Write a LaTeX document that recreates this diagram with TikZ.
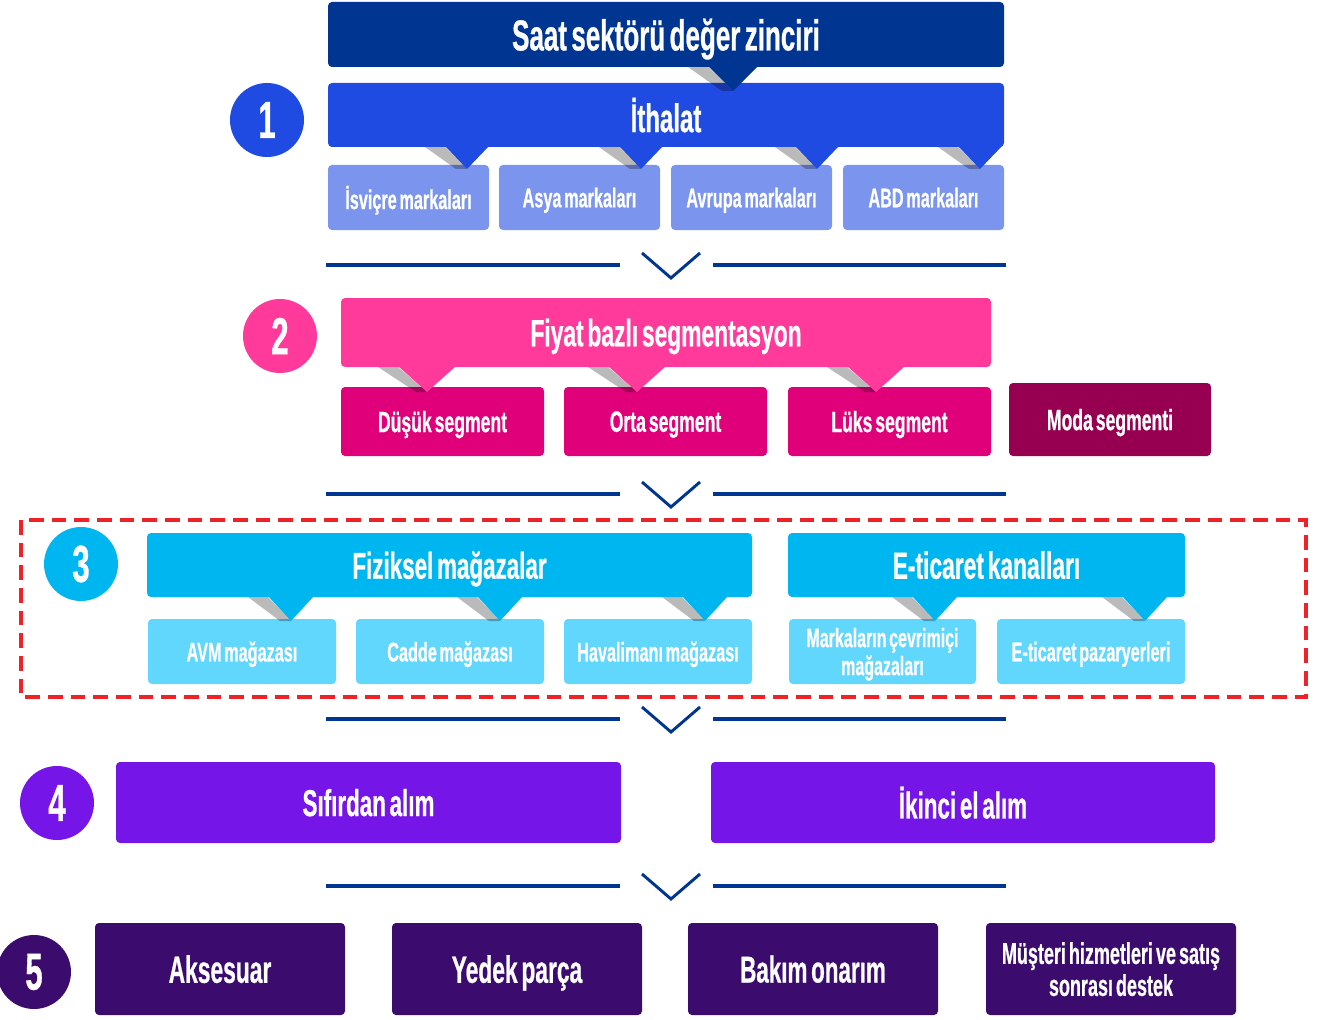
\documentclass[tikz,border=0pt]{standalone}
\usepackage{fontspec}
\setmainfont{Liberation Sans}[FakeStretch=0.6, WordSpace=0.6, FakeBold=0.6]
\definecolor{cdark}{HTML}{003591}
\definecolor{cblue}{HTML}{1F4BE2}
\definecolor{clight}{HTML}{7B95EE}
\definecolor{cpink}{HTML}{FF3A9B}
\definecolor{cmag}{HTML}{E0007A}
\definecolor{cmoda}{HTML}{970050}
\definecolor{ccyan}{HTML}{00B6F1}
\definecolor{clcyan}{HTML}{62D7FE}
\definecolor{cpur}{HTML}{7515E8}
\definecolor{cdpur}{HTML}{3C0B6E}
\definecolor{cred}{HTML}{EE2227}
\tikzset{
  box/.style={rounded corners=3pt, inner sep=0pt, text=white, align=center, text depth=0pt},
  circ/.style={circle, inner sep=0pt, minimum size=55.5pt, text=white, font=\bfseries\fontsize{39pt}{39pt}\selectfont},
  shd/.style={fill=black, opacity=0.27},
  div/.style={draw=cdark, line width=2.6pt},
  chev/.style={draw=cdark, line width=2.2pt, line join=miter},
}
\newcommand\f[1]{\fontsize{#1pt}{#1pt}\selectfont}
% name, x1, y1, x2, y2, colour, font, text
\newcommand\bx[8]{\node[box, fill=#6, minimum width={(#4-#2)*0.75pt}, minimum height={(#5-#3)*0.75pt}, font=\bfseries#7] (#1) at ({(#2+#4)/2},{(#3+#5)/2}) {#8};}
% shadow: tip x, y top, y tip, half width
\newcommand\shd[4]{\fill[shd] ({#1-#4-20},#2) -- ({#1-#4},#2) -- (#1,#3) -- ({#1-11},#3) -- cycle;}
% pointer: tip x, y top, y tip, half width, colour
\newcommand\ptr[5]{\fill[#5] ({#1-#4},{#2-1}) -- ({#1+#4},{#2-1}) -- (#1,#3) -- cycle;}
\newcommand\dvd[1]{\draw[div] (326,#1) -- (620,#1); \draw[div] (713,#1) -- (1006,#1); \draw[chev] (642,{#1-12}) -- (671,{#1+13}) -- (700,{#1-12});}
\begin{document}
\begin{tikzpicture}[x=0.75pt, y=-0.75pt]
\useasboundingbox (0,0) rectangle (1324,1020);
% ---------- section 1
\bx{s1a}{328}{165}{489}{230}{clight}{\f{20.3}}{İsviçre markaları}
\bx{s1b}{499}{165}{660}{230}{clight}{\f{20.3}}{Asya markaları}
\bx{s1c}{671}{165}{832}{230}{clight}{\f{20.3}}{Avrupa markaları}
\bx{s1d}{843}{165}{1004}{230}{clight}{\f{20.3}}{ABD markaları}
\shd{467}{147}{169}{22}\shd{641}{147}{169}{22}\shd{817}{147}{169}{22}\shd{980}{147}{169}{22}
\bx{ith}{328}{83}{1004}{147}{cblue}{\f{30}}{İthalat}
\ptr{467}{147}{169}{22}{cblue}\ptr{641}{147}{169}{22}{cblue}\ptr{817}{147}{169}{22}{cblue}\ptr{980}{147}{169}{22}{cblue}
\shd{733}{67}{91}{25}
\bx{title}{328}{2}{1004}{67}{cdark}{\f{32.5}}{Saat sektörü değer zinciri}
\ptr{733}{67}{91}{25}{cdark}
\node[circ, fill=cblue] (c1) at (267,120) {1};
\dvd{265}
% ---------- section 2
\bx{s2a}{341}{387}{544}{456}{cmag}{\f{22}}{Düşük segment}
\bx{s2b}{564}{387}{767}{456}{cmag}{\f{22}}{Orta segment}
\bx{s2c}{788}{387}{991}{456}{cmag}{\f{22}}{Lüks segment}
\bx{s2d}{1009}{383}{1211}{456}{cmoda}{\f{22}}{Moda segmenti}
\shd{427}{367}{392}{29}\shd{637}{367}{392}{29}\shd{876}{367}{392}{29}
\bx{fiyat}{341}{298}{991}{367}{cpink}{\f{28.5}}{Fiyat bazlı segmentasyon}
\ptr{427}{367}{392}{29}{cpink}\ptr{637}{367}{392}{29}{cpink}\ptr{876}{367}{392}{29}{cpink}
\node[circ, fill=cpink] (c2) at (280,336) {2};
\dvd{494}
% ---------- section 3
\draw[cred, line width=3.2pt, dash pattern=on 11pt off 6pt] (21,520) rectangle (1306,697);
\bx{s3a}{148}{619}{336}{684}{clcyan}{\f{20.3}}{AVM mağazası}
\bx{s3b}{356}{619}{544}{684}{clcyan}{\f{20.3}}{Cadde mağazası}
\bx{s3c}{564}{619}{752}{684}{clcyan}{\f{20.3}}{Havalimanı mağazası}
\bx{s3d}{789}{619}{976}{684}{clcyan}{\fontsize{20pt}{21pt}\selectfont}{Markaların çevrimiçi\\mağazaları}
\bx{s3e}{997}{619}{1185}{684}{clcyan}{\f{20.3}}{E-ticaret pazaryerleri}
\shd{291}{597}{621}{23}\shd{500}{597}{621}{23}\shd{705}{597}{621}{23}\shd{935}{597}{621}{23}\shd{1145}{597}{621}{23}
\bx{fiz}{147}{533}{752}{597}{ccyan}{\f{28}}{Fiziksel mağazalar}
\bx{eti}{788}{533}{1185}{597}{ccyan}{\f{28.5}}{E-ticaret kanalları}
\ptr{291}{597}{621}{23}{ccyan}\ptr{500}{597}{621}{23}{ccyan}\ptr{705}{597}{621}{23}{ccyan}\ptr{935}{597}{621}{23}{ccyan}\ptr{1145}{597}{621}{23}{ccyan}
\node[circ, fill=ccyan] (c3) at (81,564) {3};
\dvd{719}
% ---------- section 4
\bx{s4a}{116}{762}{621}{843}{cpur}{\f{28}}{Sıfırdan alım}
\bx{s4b}{711}{762}{1215}{843}{cpur}{\f{28}}{İkinci el alım}
\node[circ, fill=cpur] (c4) at (57,803) {4};
\dvd{886}
% ---------- section 5
\bx{s5a}{95}{923}{345}{1015}{cdpur}{\f{28.5}}{Aksesuar}
\bx{s5b}{392}{923}{642}{1015}{cdpur}{\f{28.5}}{Yedek parça}
\bx{s5c}{688}{923}{938}{1015}{cdpur}{\f{28}}{Bakım onarım}
\bx{s5d}{986}{923}{1236}{1015}{cdpur}{\fontsize{22.5pt}{24pt}\selectfont}{Müşteri hizmetleri ve satış\\sonrası destek}
\node[circ, fill=cdpur] (c5) at (34,972) {5};
\end{tikzpicture}
\end{document}
